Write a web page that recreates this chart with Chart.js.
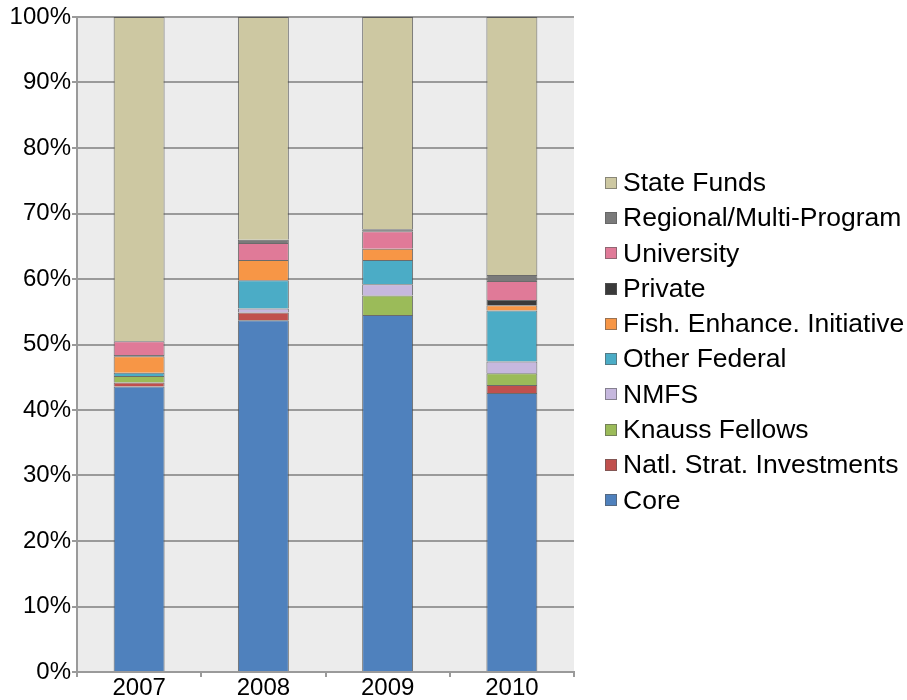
<!DOCTYPE html>
<html>
<head>
<meta charset="utf-8">
<script src="https://cdn.jsdelivr.net/npm/chart.js@4"></script>
<style>
html,body{margin:0;padding:0;background:#fff;}
#wrap{width:907px;height:700px;position:relative;}
#legend{position:absolute;left:605px;top:165px;font-family:'Liberation Sans',Arial,sans-serif;font-size:26.5px;color:#000;}
#legend .it{height:35.3px;line-height:35.3px;white-space:nowrap;display:flex;align-items:center;}
#legend .sw{width:10px;height:10px;margin-right:6px;border:1px solid rgba(90,90,90,0.6);flex:none;}
</style>
</head>
<body>
<div id="wrap"><canvas id="c" width="907" height="700"></canvas><div id="legend"></div></div>
<script>
const years = ['2007', '2008', '2009', '2010'];
const core = [43.6, 53.7, 54.5, 42.6];
const natlStrat = [0.6, 1.2, 0, 1.2];
const knauss = [1.0, 0, 3.0, 1.8];
const nmfs = [0, 0.6, 1.7, 1.8];
const otherFederal = [0.5, 4.3, 3.7, 7.8];
const fishEnhance = [2.5, 3.1, 1.7, 0.8];
const privateFunds = [0.2, 0, 0, 0.8];
const university = [2.1, 2.6, 2.7, 2.9];
const regional = [0, 0.5, 0.3, 0.9];
const stateFunds = [49.5, 34.0, 32.4, 39.4];
const yTicks = [0, 10, 20, 30, 40, 50, 60, 70, 80, 90, 100];

const series = [
  ['Core', core, '#4f81bd'],
  ['Natl. Strat. Investments', natlStrat, '#c0504d'],
  ['Knauss Fellows', knauss, '#9bbb59'],
  ['NMFS', nmfs, '#c6b8de'],
  ['Other Federal', otherFederal, '#4bacc6'],
  ['Fish. Enhance. Initiative', fishEnhance, '#f79646'],
  ['Private', privateFunds, '#3a3a3a'],
  ['University', university, '#e07a98'],
  ['Regional/Multi-Program', regional, '#7a7a7a'],
  ['State Funds', stateFunds, '#cdc8a2']
];

const bgPlugin = {
  id: 'plotBg',
  beforeDraw(chart) {
    const a = chart.chartArea, ctx = chart.ctx;
    ctx.save();
    ctx.fillStyle = '#ececec';
    ctx.fillRect(a.left, a.top, a.right - a.left, a.bottom - a.top);
    ctx.restore();
  }
};

const FONT = "'Liberation Sans', Arial, sans-serif";

const chart = new Chart(document.getElementById('c'), {
  type: 'bar',
  data: {
    labels: years,
    datasets: series.map(([label, data, color]) => ({
      label, data,
      backgroundColor: color,
      borderColor: 'rgba(75,75,75,0.8)',
      borderWidth: 1,
      categoryPercentage: 1,
      barPercentage: 0.41
    }))
  },
  options: {
    responsive: false,
    animation: false,
    layout: { padding: { top: 17, left: 0, right: 333, bottom: 0 } },
    scales: {
      x: {
        stacked: true,
        grid: { display: true, drawOnChartArea: false, color: '#9a9a9a', lineWidth: 2, tickLength: 5, offset: true },
        border: { display: true, color: '#9a9a9a', width: 2 },
        ticks: { color: '#000', font: { family: FONT, size: 24 }, padding: -3 },
        afterFit(s) { s.height = 28; }
      },
      y: {
        stacked: true,
        min: 0, max: 100,
        afterBuildTicks(s) { s.ticks = yTicks.map(v => ({ value: v })); },
        grid: { color: '#9a9a9a', lineWidth: 2, tickLength: 5 },
        border: { display: true, color: '#9a9a9a', width: 2 },
        ticks: { color: '#000', font: { family: FONT, size: 24 }, padding: 1, callback: v => v + '%' },
        afterFit(s) { s.width = 77; }
      }
    },
    plugins: {
      legend: { display: false },
      tooltip: { enabled: false }
    }
  },
  plugins: [bgPlugin]
});

// HTML legend built from the same series list (reversed, as in the original)
const lg = document.getElementById('legend');
series.slice().reverse().forEach(([label, , color]) => {
  const it = document.createElement('div');
  it.className = 'it';
  const sw = document.createElement('span');
  sw.className = 'sw';
  sw.style.background = color;
  const tx = document.createElement('span');
  tx.textContent = label;
  it.appendChild(sw);
  it.appendChild(tx);
  lg.appendChild(it);
});
</script>
</body>
</html>
